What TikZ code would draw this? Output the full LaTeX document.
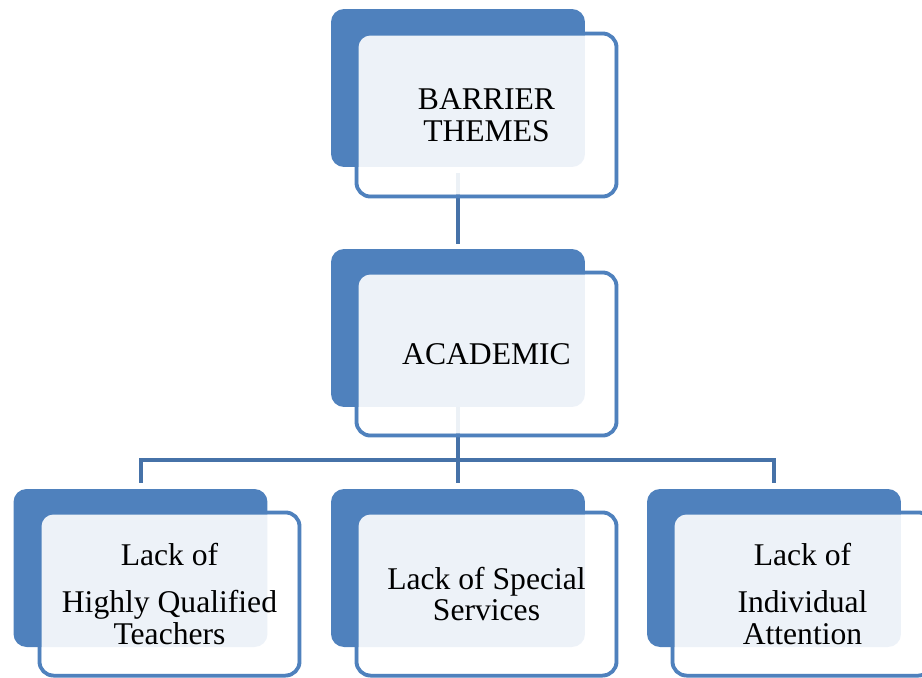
\documentclass[tikz,border=0pt]{standalone}
\usepackage{fontspec}
\setmainfont{Liberation Serif}
\usetikzlibrary{positioning, backgrounds}
\definecolor{themeblue}{RGB}{79,129,189}
\definecolor{linkblue}{RGB}{70,114,168}

\tikzset{
  backbox/.style={rectangle, rounded corners=0.26cm, fill=themeblue, minimum width=5.08cm, minimum height=3.16cm, inner sep=0pt},
  framebox/.style={rectangle, rounded corners=0.28cm, draw=themeblue, line width=0.08cm, minimum width=5.2cm, minimum height=3.26cm, inner sep=0pt},
  glassbox/.style={rectangle, rounded corners=0.24cm, fill=white, fill opacity=0.9, text opacity=1, minimum width=5.12cm, minimum height=3.18cm, inner sep=0pt, align=center, font=\fontsize{18}{18.2}\selectfont},
  link/.style={draw=linkblue, line width=0.08cm}
}

\begin{document}
\begin{tikzpicture}[x=0.02cm, y=-0.02cm]
    \clip (0,0) rectangle (922,677);
    % Top level
    \node[framebox] (barrierF) at (486.5,115) {};
    \node[backbox] (barrier) at (458,88) {};
    \node[glassbox] (barrierT) at (486.5,115) {BARRIER\\THEMES};

    % Middle level
    \node[framebox] (acadF) at (486.5,354) {};
    \node[backbox] (acad) at (458,328) {};
    \node[glassbox] (acadT) at (486.5,354) {ACADEMIC};

    % Bottom level
    \node[framebox] (qualF) at (169.5,594) {};
    \node[backbox] (qual) at (140.5,568) {};
    \node[glassbox] (qualT) at (169.5,594) {Lack of\\[8.5pt]Highly Qualified\\Teachers};

    \node[framebox] (servF) at (486.5,594) {};
    \node[backbox] (serv) at (458,568) {};
    \node[glassbox] (servT) at (486.5,594) {Lack of Special\\Services};

    \node[framebox] (attnF) at (802.5,594) {};
    \node[backbox] (attn) at (774,568) {};
    \node[glassbox] (attnT) at (802.5,594) {Lack of\\[8.5pt]Individual\\Attention};

    % Connectors
    \begin{pgfonlayer}{background}
      \draw[link, shorten <=0.12cm, shorten >=0.1cm] (barrier.south) -- (acad.north);
      \coordinate[below=1.06cm of acad.south] (hub);
      \draw[link] (acad.south) -- (hub);
      \draw[link, shorten >=0.12cm] (hub) -| (qual.north);
      \draw[link, shorten >=0.12cm] (hub) -- (serv.north);
      \draw[link, shorten >=0.12cm] (hub) -| (attn.north);
    \end{pgfonlayer}
\end{tikzpicture}
\end{document}
